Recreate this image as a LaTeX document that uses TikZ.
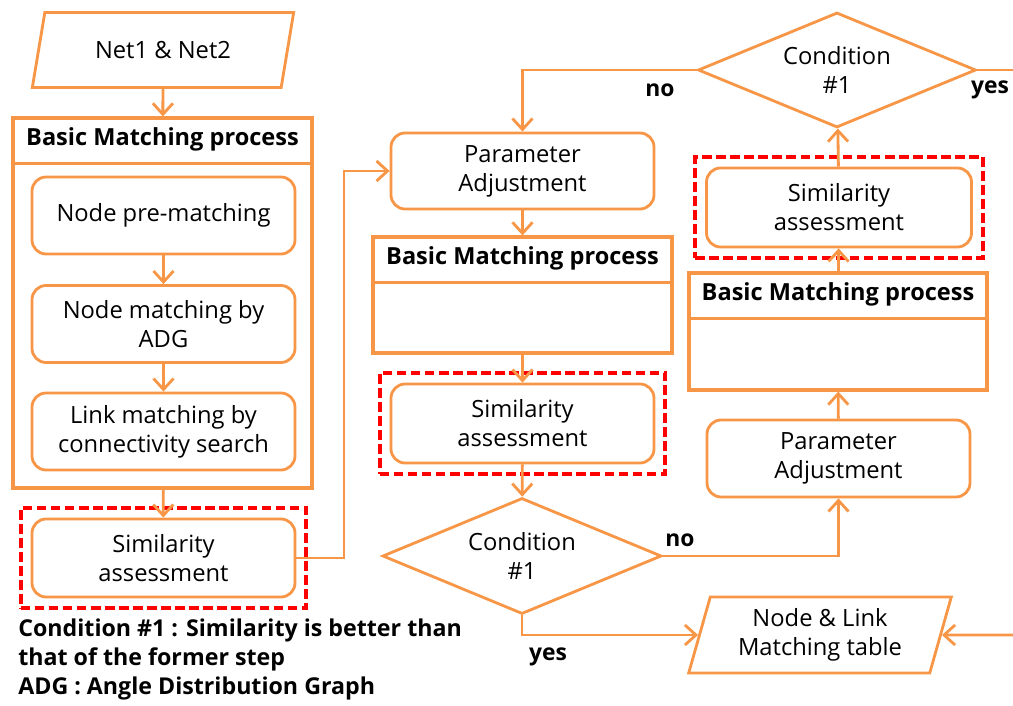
\documentclass[tikz,border=0pt]{standalone}
\usepackage{fontspec}
\setmainfont{Open Sans}
\usepackage{tikz}
\usetikzlibrary{shapes.geometric, arrows.meta, positioning, fit, calc}
\definecolor{flowOrange}{RGB}{247, 150, 70}
\definecolor{markRed}{RGB}{255, 0, 0}
\tikzstyle{stepbox} = [
    rectangle,
    rounded corners=8pt,
    minimum width=5.26cm,
    minimum height=1.54cm,
    align=center,
    draw=flowOrange,
    line width=1.6pt,
    fill=white,
    font=\fontsize{13.5}{16.5}\selectfont
]
\tikzstyle{bmpbox} = [
    rectangle,
    minimum width=5.98cm,
    draw=flowOrange,
    line width=1.8pt
]
\tikzstyle{bmptitle} = [
    anchor=north,
    minimum height=0.92cm,
    font=\fontsize{13.4}{16}\selectfont\bfseries
]
\tikzstyle{decision} = [
    diamond,
    aspect=2.4,
    minimum width=5.56cm,
    minimum height=2.3cm,
    inner sep=1pt,
    align=center,
    draw=flowOrange,
    line width=1.6pt,
    font=\fontsize{13.5}{16.5}\selectfont
]
\tikzstyle{iobox} = [
    trapezium,
    trapezium left angle=75,
    trapezium right angle=105,
    trapezium stretches=true,
    minimum width=5.26cm,
    minimum height=1.5cm,
    align=center,
    draw=flowOrange,
    line width=1.6pt,
    font=\fontsize{13.5}{16.5}\selectfont
]
\tikzstyle{checkbox} = [
    rectangle,
    draw=markRed,
    dash pattern=on 5.5pt off 2.5pt,
    line width=2.2pt,
    inner sep=0.2cm
]
\tikzstyle{arrow} = [
    line width=1.6pt,
    -{Straight Barb[length=2.2mm, width=4mm]},
    color=flowOrange
]
\tikzstyle{answer} = [font=\fontsize{13}{16}\selectfont\bfseries]

\begin{document}
\begin{tikzpicture}
        \useasboundingbox (0, 0) rectangle (20.26, -14.12);

        % Left column: input and basic matching
        \node[iobox] (nets) at (3.26, -1.0) {Net1 \& Net2};
        \node[bmpbox, minimum height=7.4cm] (bmp1) at (3.25, -6.06) {};
        \node[bmptitle] (bmp1title) at (bmp1.north) {Basic Matching process};
        \draw[flowOrange, line width=1.8pt] (bmp1.west |- bmp1title.south) -- (bmp1.east |- bmp1title.south);
        \node[stepbox] (prematch) at (3.27, -4.31) {Node pre-matching};
        \node[stepbox] (adgmatch) at (3.27, -6.48) {Node matching by\\ADG};
        \node[stepbox] (linkmatch) at (3.27, -8.63) {Link matching by\\connectivity search};
        \node[stepbox, minimum height=1.56cm] (sim1) at (3.27, -11.16) {Similarity\\assessment};
        \node[checkbox, fit=(sim1)] (mark1) {};

        % Middle column
        \node[stepbox, minimum height=1.52cm] (param1) at (10.45, -3.42) {Parameter\\Adjustment};
        \node[bmpbox, minimum height=2.32cm] (bmp2) at (10.45, -5.9) {};
        \node[bmptitle] (bmp2title) at (bmp2.north) {Basic Matching process};
        \draw[flowOrange, line width=1.8pt] (bmp2.west |- bmp2title.south) -- (bmp2.east |- bmp2title.south);
        \node[stepbox, minimum height=1.58cm] (sim2) at (10.45, -8.47) {Similarity\\assessment};
        \node[checkbox, fit=(sim2)] (mark2) {};
        \node[decision, minimum width=5.58cm, minimum height=2.32cm] (cond1) at (10.44, -11.12) {Condition\\\#1};
        \node[iobox, minimum height=1.52cm] (table) at (16.4, -12.7) {Node \& Link\\Matching table};

        % Right column
        \node[stepbox] (param2) at (16.77, -9.17) {Parameter\\Adjustment};
        \node[bmpbox, minimum height=2.34cm, minimum width=5.96cm] (bmp3) at (16.76, -6.63) {};
        \node[bmptitle] (bmp3title) at (bmp3.north) {Basic Matching process};
        \draw[flowOrange, line width=1.8pt] (bmp3.west |- bmp3title.south) -- (bmp3.east |- bmp3title.south);
        \node[stepbox, minimum width=5.3cm, minimum height=1.58cm] (sim3) at (16.78, -4.15) {Similarity\\assessment};
        \node[checkbox, fit=(sim3)] (mark3) {};
        \node[decision] (cond2) at (16.74, -1.4) {Condition\\\#1};

        % Loose ends at the right border
        \coordinate (bend) at (6.88, 0);
        \coordinate (topend) at (20.26, -1.4);
        \coordinate (bottomend) at (20.26, -12.7);

        % Arrows
        \draw[arrow] (nets) -- (bmp1);
        \draw[arrow] (prematch) -- (adgmatch);
        \draw[arrow] (adgmatch) -- (linkmatch);
        \draw[arrow] (bmp1) -- (sim1);
        \draw[arrow] (sim1.east) -- (sim1.east -| bend) |- (param1.west);
        \draw[arrow] (param1) -- (bmp2);
        \draw[arrow] (bmp2) -- (sim2);
        \draw[arrow] (sim2) -- (cond1);
        \draw[arrow] (cond1.east) -| (param2.south);
        \draw[arrow] (cond1.south) |- (table.west);
        \draw[arrow] (param2) -- (bmp3);
        \draw[arrow] (bmp3) -- (sim3);
        \draw[arrow] (sim3) -- (cond2);
        \draw[arrow] (cond2.west) -| (param1.north);
        \draw[flowOrange, line width=1.6pt] (cond2.east) -- (topend);
        \draw[arrow] (bottomend) -- (table.east);

        % Labels
        \node[answer] (no1) at (13.2, -1.8) {no};
        \node[answer] (yes1) at (19.8, -1.8) {yes};
        \node[answer] (no2) at (13.6, -10.8) {no};
        \node[answer] (yes2) at (10.96, -13.14) {yes};
        \node[anchor=north west, align=left, inner sep=0pt, font=\fontsize{13.2}{16.5}\selectfont\bfseries] (legend) at (0.36, -12.38)
            {Condition \#1 : Similarity is better than\\that of the former step\\ADG : Angle Distribution Graph};
    \end{tikzpicture}
\end{document}
